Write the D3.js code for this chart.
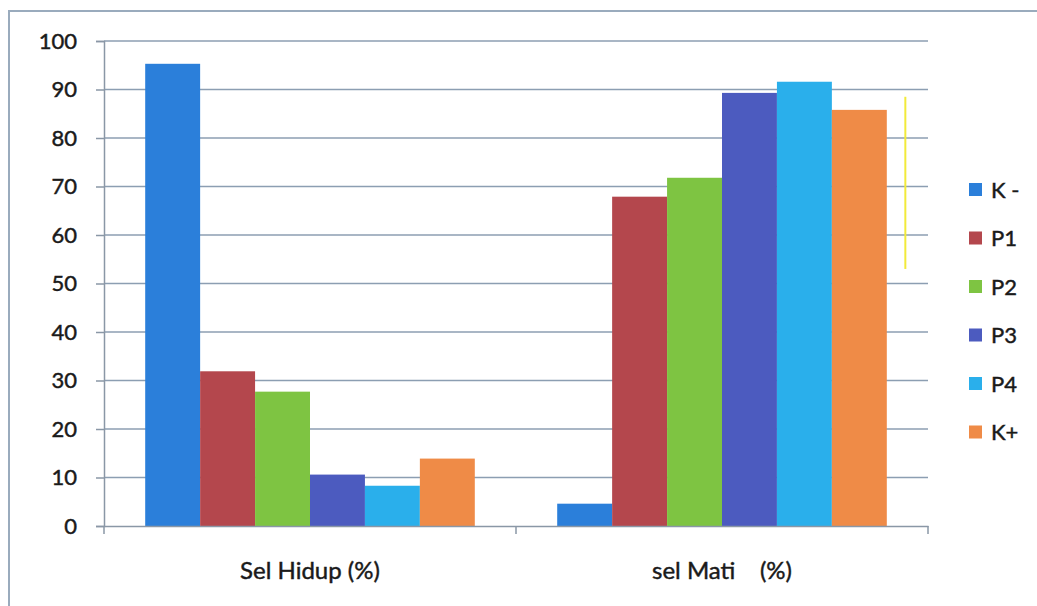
<!DOCTYPE html>
<html>
<head>
<meta charset="utf-8">
<script src="https://cdn.jsdelivr.net/npm/d3@7/dist/d3.min.js"></script>
<style>
  html, body { margin: 0; padding: 0; background: #ffffff; }
  svg { display: block; font-family: Lato, "Open Sans", sans-serif; }
  .lbl { fill: #1a1a1a; stroke: #1a1a1a; stroke-width: 0.45px; }
</style>
</head>
<body>
<svg id="chart" width="1037" height="606"></svg>
<script>
// Cell viability per treatment group
const categories = ["Sel Hidup (%)", "sel Mati    (%)"];
const seriesNames = ["K -", "P1", "P2", "P3", "P4", "K+"];
const selHidup = [95.3, 31.9, 27.7, 10.6, 8.3, 13.9];
const selMati  = [4.6, 67.9, 71.8, 89.3, 91.6, 85.8];
const seriesColors = ["#2b7fda", "#b4474d", "#7ec442", "#4c5bbf", "#2aafeb", "#ef8b47"];
const yTicks = [0, 10, 20, 30, 40, 50, 60, 70, 80, 90, 100];
// yellow range marker drawn beside the second group
const markerRange = [53, 88.5];

const values = [selHidup, selMati];

const svg = d3.select("#chart");
const W = 1037, H = 606;
const m = { left: 104, right: 109, top: 41, bottom: 80 };
const plotW = W - m.left - m.right;
const plotH = H - m.top - m.bottom;

// outer frame (only top and left edges fall inside the view)
svg.append("rect")
  .attr("x", 9).attr("y", 11)
  .attr("width", 1100).attr("height", 700)
  .attr("fill", "none")
  .attr("stroke", "#9aabbd")
  .attr("stroke-width", 2);

const g = svg.append("g").attr("transform", `translate(${m.left},${m.top})`);

const x0 = d3.scaleBand().domain(categories).range([0, plotW]).padding(0);
const x1 = d3.scaleBand().domain(seriesNames)
  .range([x0.bandwidth() * 0.1, x0.bandwidth() * 0.9]).padding(0);
const y = d3.scaleLinear().domain([0, 100]).range([plotH, 0]);

// horizontal gridlines
g.append("g")
  .selectAll("line")
  .data(yTicks.filter(d => d > 0))
  .join("line")
  .attr("x1", 0).attr("x2", plotW)
  .attr("y1", d => y(d)).attr("y2", d => y(d))
  .attr("stroke", "#8c9eb2")
  .attr("stroke-width", 1.5);

// y axis
const yAxis = g.append("g")
  .call(d3.axisLeft(y).tickValues(yTicks).tickSize(8).tickPadding(19));
yAxis.select(".domain").attr("stroke", "#8a97a6").attr("stroke-width", 1.5);
yAxis.selectAll(".tick line").attr("stroke", "#8a97a6").attr("stroke-width", 1.5);
yAxis.selectAll(".tick text")
  .attr("class", "lbl")
  .attr("fill", null)
  .style("font-size", "22px")
  .style("font-family", "Lato, 'Open Sans', sans-serif");

// bars
const groups = g.append("g")
  .selectAll("g")
  .data(categories)
  .join("g")
  .attr("transform", d => `translate(${x0(d)},0)`);

groups.selectAll("rect")
  .data((d, i) => seriesNames.map((s, j) => ({ s, v: values[i][j], c: seriesColors[j] })))
  .join("rect")
  .attr("x", d => x1(d.s))
  .attr("width", x1.bandwidth())
  .attr("y", d => y(d.v))
  .attr("height", d => y(0) - y(d.v))
  .attr("fill", d => d.c);

// x axis
const xAxis = g.append("g")
  .attr("transform", `translate(0,${plotH})`)
  .call(d3.axisBottom(x0).tickSize(0).tickPadding(36));
xAxis.select(".domain").attr("stroke", "#8a97a6").attr("stroke-width", 1.5);
xAxis.selectAll(".tick text")
  .attr("class", "lbl")
  .attr("fill", null)
  .style("font-size", "24px")
  .style("white-space", "pre")
  .style("font-family", "Lato, 'Open Sans', sans-serif");

// category separator ticks
g.append("g")
  .selectAll("line")
  .data([0, plotW / 2, plotW])
  .join("line")
  .attr("x1", d => d).attr("x2", d => d)
  .attr("y1", plotH).attr("y2", plotH + 8)
  .attr("stroke", "#8a97a6")
  .attr("stroke-width", 1.5);

// yellow range marker
g.append("line")
  .attr("x1", x0(categories[1]) + x0.bandwidth() * 0.945)
  .attr("x2", x0(categories[1]) + x0.bandwidth() * 0.945)
  .attr("y1", y(markerRange[1]))
  .attr("y2", y(markerRange[0]))
  .attr("stroke", "#f2ea3a")
  .attr("stroke-width", 2);

// legend
const legend = svg.append("g").attr("transform", "translate(969,183)");
const rows = legend.selectAll("g")
  .data(seriesNames)
  .join("g")
  .attr("transform", (d, i) => `translate(0,${i * 48.5})`);
rows.append("rect")
  .attr("width", 13).attr("height", 13)
  .attr("fill", (d, i) => seriesColors[i]);
rows.append("text")
  .attr("class", "lbl")
  .attr("x", 22).attr("y", 7)
  .attr("dy", "0.36em")
  .style("font-size", "22px")
  .style("white-space", "pre")
  .text(d => d);
</script>
</body>
</html>
